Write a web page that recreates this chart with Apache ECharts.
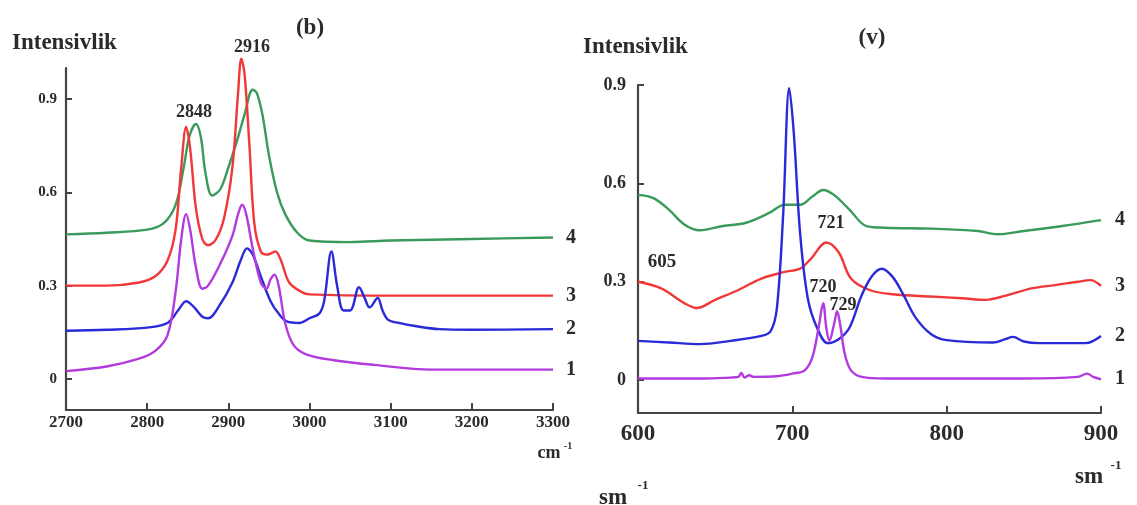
<!DOCTYPE html>
<html>
<head>
<meta charset="utf-8">
<script src="https://cdn.jsdelivr.net/npm/echarts@6/dist/echarts.min.js"></script>
<style>
  html, body { margin: 0; padding: 0; background: #fff; }
  #chart { width: 1137px; height: 505px; }
</style>
</head>
<body>
<div id="chart"></div>
<script>
// Panel (b): 2700-3300 cm-1
const bX4 = [2700, 2750, 2800, 2820, 2835, 2845, 2852, 2860, 2866, 2872, 2880, 2890, 2900, 2910, 2920, 2930, 2935, 2942, 2950, 2960, 2970, 2985, 3000, 3050, 3100, 3200, 3300];
const bY4 = [0.465, 0.47, 0.48, 0.50, 0.56, 0.68, 0.78, 0.82, 0.78, 0.66, 0.59, 0.61, 0.68, 0.76, 0.85, 0.93, 0.92, 0.85, 0.72, 0.60, 0.53, 0.47, 0.445, 0.44, 0.445, 0.45, 0.455];

const bX3 = [2700, 2750, 2790, 2810, 2825, 2835, 2842, 2848, 2853, 2860, 2868, 2875, 2885, 2895, 2905, 2912, 2916, 2920, 2926, 2932, 2940, 2948, 2958, 2965, 2975, 2990, 3000, 3100, 3200, 3300];
const bY3 = [0.30, 0.30, 0.31, 0.33, 0.38, 0.48, 0.68, 0.81, 0.74, 0.55, 0.45, 0.43, 0.45, 0.52, 0.68, 0.92, 1.03, 0.98, 0.75, 0.50, 0.41, 0.40, 0.41, 0.38, 0.31, 0.28, 0.272, 0.268, 0.268, 0.268];

const bX2 = [2700, 2750, 2800, 2825, 2838, 2848, 2858, 2868, 2875, 2890, 2905, 2915, 2923, 2930, 2940, 2952, 2962, 2972, 2988, 3000, 3012, 3018, 3027, 3034, 3042, 3050, 3061, 3068, 3074, 3084, 3090, 3097, 3110, 3130, 3160, 3200, 3300];
const bY2 = [0.155, 0.158, 0.165, 0.18, 0.22, 0.25, 0.23, 0.20, 0.195, 0.24, 0.31, 0.38, 0.42, 0.40, 0.33, 0.25, 0.21, 0.185, 0.18, 0.195, 0.21, 0.25, 0.41, 0.30, 0.22, 0.22, 0.295, 0.26, 0.23, 0.26, 0.22, 0.19, 0.18, 0.17, 0.16, 0.158, 0.16];

const bX1 = [2700, 2750, 2790, 2810, 2825, 2835, 2842, 2848, 2853, 2860, 2868, 2875, 2890, 2905, 2912, 2917, 2922, 2930, 2940, 2947, 2952, 2957, 2962, 2970, 2980, 2995, 3030, 3080, 3150, 3300];
const bY1 = [0.025, 0.04, 0.065, 0.09, 0.14, 0.28, 0.45, 0.53, 0.48, 0.36, 0.29, 0.30, 0.37, 0.46, 0.53, 0.56, 0.53, 0.42, 0.31, 0.29, 0.32, 0.335, 0.30, 0.18, 0.11, 0.08, 0.06, 0.045, 0.03, 0.03];

// Panel (v): 600-900 sm-1
const vX4 = [600, 610, 620, 630, 640, 655, 670, 685, 695, 705, 713, 720, 727, 737, 748, 760, 790, 820, 833, 850, 875, 900];
const vY4 = [0.565, 0.555, 0.52, 0.475, 0.457, 0.47, 0.48, 0.51, 0.535, 0.535, 0.56, 0.58, 0.565, 0.52, 0.47, 0.465, 0.462, 0.455, 0.445, 0.455, 0.47, 0.488];

const vX3 = [600, 615, 630, 638, 650, 665, 680, 695, 705, 712, 722, 730, 738, 750, 765, 790, 810, 825, 840, 855, 870, 885, 893, 900];
const vY3 = [0.30, 0.28, 0.235, 0.22, 0.245, 0.275, 0.31, 0.33, 0.34, 0.37, 0.42, 0.39, 0.31, 0.275, 0.262, 0.255, 0.25, 0.245, 0.26, 0.28, 0.29, 0.30, 0.305, 0.288];

const vX2 = [600, 620, 640, 660, 680, 686, 690, 694, 698, 701, 705, 710, 716, 723, 730, 737, 745, 752, 758, 765, 772, 780, 790, 800, 830, 838, 843, 850, 860, 890, 900];
const vY2 = [0.12, 0.115, 0.11, 0.12, 0.135, 0.15, 0.22, 0.50, 0.89, 0.75, 0.45, 0.25, 0.16, 0.113, 0.125, 0.16, 0.26, 0.32, 0.34, 0.315, 0.26, 0.19, 0.14, 0.122, 0.115, 0.125, 0.132, 0.118, 0.113, 0.113, 0.135];

const vX1 = [600, 640, 660, 665, 667, 669, 672, 675, 690, 700, 708, 713, 717, 720, 722, 724, 727, 729, 731, 734, 738, 745, 760, 800, 850, 885, 891, 895, 900];
const vY1 = [0.005, 0.005, 0.008, 0.01, 0.022, 0.008, 0.015, 0.01, 0.012, 0.02, 0.03, 0.07, 0.16, 0.235, 0.16, 0.12, 0.17, 0.21, 0.17, 0.08, 0.03, 0.01, 0.005, 0.005, 0.005, 0.01, 0.02, 0.01, 0.003];

const yTicks = [0, 0.3, 0.6, 0.9];
const curveNames = ['4', '3', '2', '1'];
const curveColors = ['#3a9a5c', '#f03838', '#2a2ad8', '#b23ade'];

const SERIF = '"Liberation Serif", "DejaVu Serif", serif';
const INK = '#2b2b2b';

const zip = (xs, ys) => xs.map((x, i) => [x, ys[i]]);

const chart = echarts.init(document.getElementById('chart'));

// one line series per curve
const makeSeries = (idx, xs, ys, ci, labelDist) => ({
  name: curveNames[ci],
  type: 'line',
  xAxisIndex: idx,
  yAxisIndex: idx,
  data: zip(xs, ys),
  smooth: 0.35,
  showSymbol: false,
  clip: false,
  lineStyle: { width: 2.4, color: curveColors[ci] },
  itemStyle: { color: curveColors[ci] },
  endLabel: {
    show: true,
    formatter: '{a}',
    distance: labelDist,
    color: INK,
    fontFamily: SERIF,
    fontWeight: 'bold',
    fontSize: 20
  }
});

const axisLineStyle = { show: true, onZero: false, lineStyle: { color: '#444', width: 2.2 } };

const txt = (text, x, y, size, align) => ({
  type: 'text',
  x: x,
  y: y,
  style: {
    text: text,
    fill: INK,
    font: 'bold ' + size + 'px ' + SERIF,
    textAlign: align || 'center',
    textVerticalAlign: 'middle'
  }
});

const option = {
  backgroundColor: '#fff',
  animation: false,
  grid: [
    { left: 66, top: 68, width: 487, height: 342 },
    { left: 638, top: 85, width: 463, height: 328 }
  ],
  xAxis: [
    {
      gridIndex: 0, type: 'value', min: 2700, max: 3300, interval: 100,
      axisLine: axisLineStyle,
      axisTick: { show: true, inside: true, length: 7, lineStyle: { color: '#444', width: 2 } },
      axisLabel: { color: INK, fontFamily: SERIF, fontWeight: 'bold', fontSize: 17, margin: 4, formatter: v => String(v) },
      splitLine: { show: false }
    },
    {
      gridIndex: 1, type: 'value', min: 600, max: 900, interval: 100,
      axisLine: axisLineStyle,
      axisTick: { show: true, inside: true, length: 7, lineStyle: { color: '#444', width: 2 } },
      axisLabel: { color: INK, fontFamily: SERIF, fontWeight: 'bold', fontSize: 23, margin: 10, formatter: v => String(v) },
      splitLine: { show: false }
    }
  ],
  yAxis: [
    {
      gridIndex: 0, type: 'value', min: -0.1, max: 1.0,
      axisLine: axisLineStyle,
      axisTick: { show: true, inside: true, length: 6, customValues: yTicks, lineStyle: { color: '#444', width: 2 } },
      axisLabel: { customValues: yTicks, color: INK, fontFamily: SERIF, fontWeight: 'bold', fontSize: 15, margin: 9, formatter: v => String(v) },
      splitLine: { show: false }
    },
    {
      gridIndex: 1, type: 'value', min: -0.1, max: 0.9,
      axisLine: axisLineStyle,
      axisTick: { show: true, inside: true, length: 6, customValues: yTicks, lineStyle: { color: '#444', width: 2 } },
      axisLabel: { customValues: yTicks, color: INK, fontFamily: SERIF, fontWeight: 'bold', fontSize: 18, margin: 12, formatter: v => String(v) },
      splitLine: { show: false }
    }
  ],
  series: [
    makeSeries(0, bX4, bY4, 0, 13),
    makeSeries(0, bX3, bY3, 1, 13),
    makeSeries(0, bX2, bY2, 2, 13),
    makeSeries(0, bX1, bY1, 3, 13),
    makeSeries(1, vX4, vY4, 0, 14),
    makeSeries(1, vX3, vY3, 1, 14),
    makeSeries(1, vX2, vY2, 2, 14),
    makeSeries(1, vX1, vY1, 3, 14)
  ],
  graphic: [
    txt('Intensivlik', 12, 43, 23, 'left'),
    txt('(b)', 310, 28, 23),
    txt('2848', 194, 112, 18),
    txt('2916', 252, 47, 18),
    txt('cm', 549, 453, 18),
    txt('-1', 568, 446, 10),
    txt('Intensivlik', 583, 47, 23, 'left'),
    txt('(v)', 872, 38, 23),
    txt('605', 662, 262, 19),
    txt('721', 831, 223, 18),
    txt('720', 823, 287, 18),
    txt('729', 843, 305, 18),
    txt('sm', 1089, 477, 23),
    txt('-1', 1116, 466, 13),
    txt('sm', 613, 498, 23),
    txt('-1', 643, 486, 13)
  ]
};

chart.setOption(option);
</script>
</body>
</html>
